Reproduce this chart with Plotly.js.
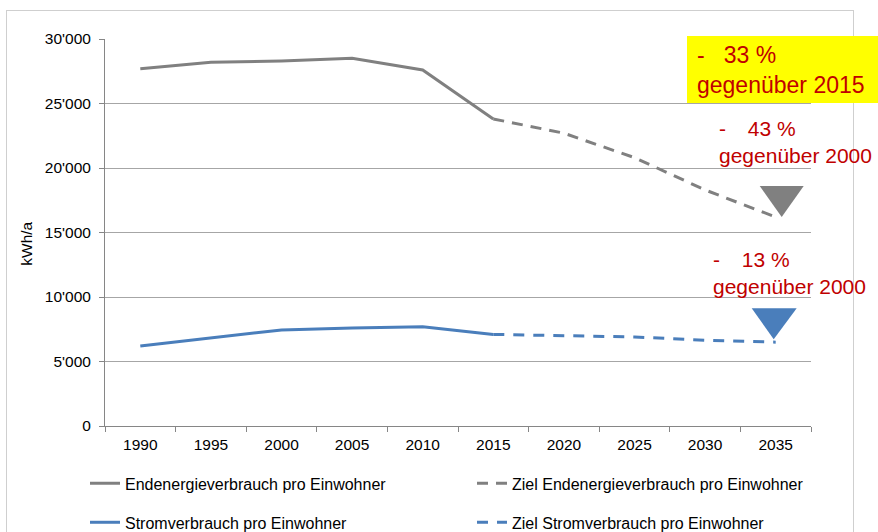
<!DOCTYPE html>
<html>
<head>
<meta charset="utf-8">
<script src="https://cdn.plot.ly/plotly-3.0.1.min.js"></script>
<style>
  html, body { margin: 0; padding: 0; background: #ffffff; }
  #frame { position: absolute; left: 6px; top: 10px; width: 846px; height: 600px; border: 1px solid #cfcfcf; }
  #chart { position: absolute; left: 0; top: 0; width: 878px; height: 532px; }
</style>
</head>
<body>
<div id="frame"></div>
<div id="chart"></div>
<script>
// ---- data ----
const years = ['1990', '1995', '2000', '2005', '2010', '2015', '2020', '2025', '2030', '2035'];
const istYears = years.slice(0, 6);   // 1990-2015
const zielYears = years.slice(5);     // 2015-2035
const endenergieIst = [27700, 28200, 28300, 28500, 27600, 23800];
const endenergieZiel = [23800, 22700, 20800, 18300, 16200];
const stromIst = [6200, 6800, 7450, 7600, 7700, 7100];
const stromZiel = [7100, 7000, 6900, 6650, 6500];
const seriesNames = ['Endenergieverbrauch pro Einwohner', 'Ziel Endenergieverbrauch pro Einwohner',
                     'Stromverbrauch pro Einwohner', 'Ziel Stromverbrauch pro Einwohner'];
const noteLabels = ['-\u00a0\u00a0\u00a033 %<br>gegenüber 2015',
                    '-\u00a0\u00a0\u00a0\u200943 %<br>gegenüber 2000',
                    '-\u00a0\u00a0\u00a0\u200913 %<br>gegenüber 2000'];
const yTitle = 'kWh/a';

// ---- styling ----
const GREY = '#808080';
const BLUE = '#4a7ebb';
const RED = '#c00000';
const FONT = 'Liberation Sans, Arial, sans-serif';

// pixel -> paper helpers (plot area 105..811 x, 39..426.5 y)
const L = 105, R = 811, T = 39, B = 426.5;
const px = x => (x - L) / (R - L);
const py = y => (B - y) / (B - T);

const traces = [
  { x: istYears, y: endenergieIst, name: seriesNames[0], mode: 'lines', legend: 'legend',
    line: { color: GREY, width: 3 } },
  { x: zielYears, y: endenergieZiel, name: seriesNames[1], mode: 'lines', legend: 'legend',
    line: { color: GREY, width: 3, dash: '11px,8px' } },
  { x: istYears, y: stromIst, name: seriesNames[2], mode: 'lines', legend: 'legend2',
    line: { color: BLUE, width: 3 } },
  { x: zielYears, y: stromZiel, name: seriesNames[3], mode: 'lines', legend: 'legend2',
    line: { color: BLUE, width: 3, dash: '11px,9px' } }
];

const lastIdx = years.length - 1;   // category index of 2035
const endLast = endenergieZiel[endenergieZiel.length - 1];
const stromLast = stromZiel[stromZiel.length - 1];

const layout = {
  width: 878, height: 532,
  margin: { l: L, r: 878 - R, t: T, b: 532 - B, autoexpand: false },
  paper_bgcolor: 'rgba(0,0,0,0)',
  plot_bgcolor: 'rgba(0,0,0,0)',
  separators: ".'",
  font: { family: FONT, color: '#000000', size: 15.5 },
  showlegend: true,
  xaxis: {
    type: 'category',
    categoryorder: 'array', categoryarray: years,
    range: [-0.5, years.length - 0.5],
    tickson: 'boundaries',
    ticks: 'outside', ticklen: 5, tickcolor: '#868686', tickwidth: 1,
    ticklabelstandoff: 4,
    showline: true, linecolor: '#868686', linewidth: 1,
    showgrid: false, zeroline: false,
    tickfont: { size: 15.5, family: FONT, color: '#000' }
  },
  yaxis: {
    range: [0, 30000], dtick: 5000, tick0: 0,
    tickformat: ',d',
    ticks: 'outside', ticklen: 5, tickcolor: '#868686', tickwidth: 1,
    ticklabelstandoff: 5,
    showline: true, linecolor: '#868686', linewidth: 1,
    showgrid: true, gridcolor: '#a6a6a6', gridwidth: 1,
    zeroline: false,
    tickfont: { size: 15.5, family: FONT, color: '#000' }
  },
  legend: {
    orientation: 'h', x: px(85), xanchor: 'left', y: py(484), yanchor: 'middle',
    entrywidth: 342, font: { size: 16, family: FONT, color: '#000' },
    bgcolor: 'rgba(0,0,0,0)', traceorder: 'normal'
  },
  legend2: {
    orientation: 'h', x: px(85), xanchor: 'left', y: py(523), yanchor: 'middle',
    entrywidth: 342, font: { size: 16, family: FONT, color: '#000' },
    bgcolor: 'rgba(0,0,0,0)', traceorder: 'normal'
  },
  shapes: [
    { type: 'rect', xref: 'paper', yref: 'paper', x0: px(687), x1: px(878), y0: py(103), y1: py(36),
      fillcolor: '#ffff00', line: { width: 0 }, layer: 'above' },
    { type: 'path', xref: 'x', yref: 'y', xsizemode: 'pixel', ysizemode: 'pixel',
      xanchor: lastIdx, yanchor: endLast,
      path: 'M -16,31 L 28,31 L 6,0 Z', fillcolor: GREY, line: { width: 0 } },
    { type: 'path', xref: 'x', yref: 'y', xsizemode: 'pixel', ysizemode: 'pixel',
      xanchor: lastIdx, yanchor: stromLast,
      path: 'M -24,34 L 21,34 L -2,3 Z', fillcolor: BLUE, line: { width: 0 } }
  ],
  annotations: [
    { xref: 'paper', yref: 'paper', x: px(695), y: py(70), xanchor: 'left', yanchor: 'middle',
      text: noteLabels[0], showarrow: false, align: 'left',
      font: { size: 23, family: FONT, color: RED } },
    { xref: 'paper', yref: 'paper', x: px(717), y: py(142), xanchor: 'left', yanchor: 'middle',
      text: noteLabels[1], showarrow: false, align: 'left',
      font: { size: 21, family: FONT, color: RED } },
    { xref: 'paper', yref: 'paper', x: px(711), y: py(273), xanchor: 'left', yanchor: 'middle',
      text: noteLabels[2], showarrow: false, align: 'left',
      font: { size: 21, family: FONT, color: RED } },
    { xref: 'paper', yref: 'paper', x: px(27), y: py(244), xanchor: 'center', yanchor: 'middle',
      text: yTitle, textangle: -90, showarrow: false,
      font: { size: 15.5, family: FONT, color: '#000' } }
  ]
};

Plotly.newPlot('chart', traces, layout, { staticPlot: true, displayModeBar: false });
</script>
</body>
</html>
